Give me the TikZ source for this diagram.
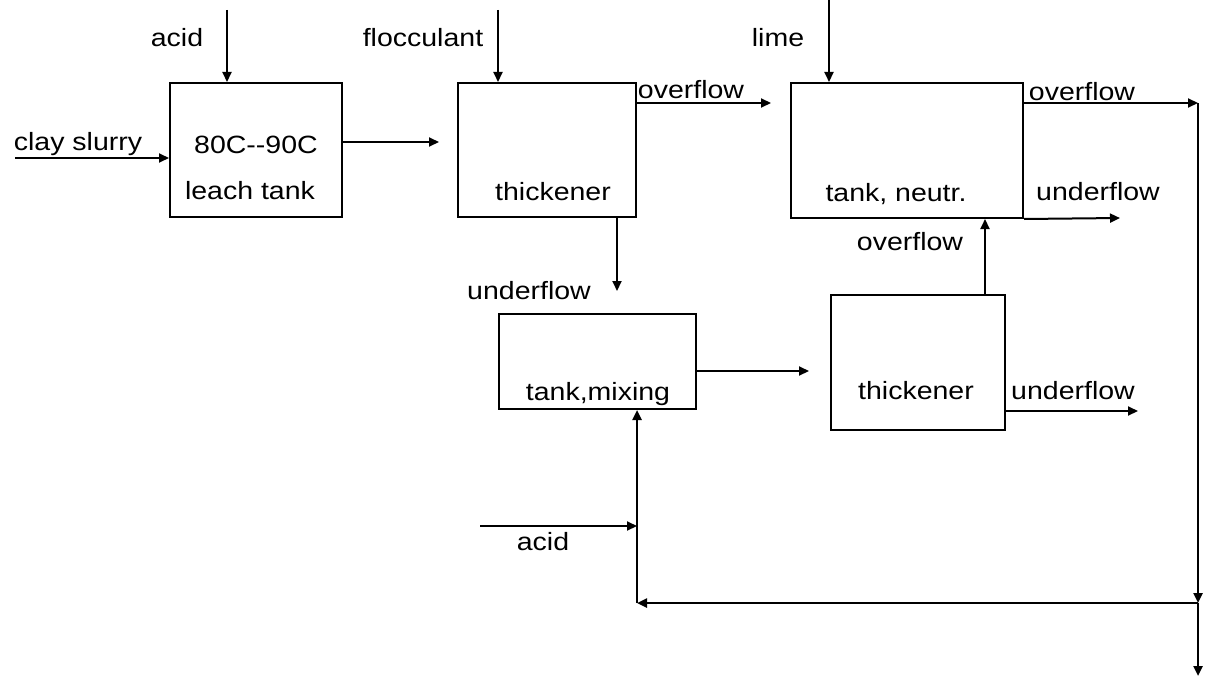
\documentclass[tikz,border=0pt]{standalone}
\usepackage{fontspec}
\setmainfont{Liberation Sans}[FakeStretch=1.14]
\usepackage{tikz}
\usetikzlibrary{arrows.meta,positioning,calc}

\begin{document}
\begin{tikzpicture}[x=1pt,y=-1pt,
    vessel/.style={draw,line width=2pt,inner sep=0pt},
    lbl/.style={font=\fontsize{25}{30}\selectfont,inner sep=0pt,anchor=base},
    flow/.style={line width=2pt,-{Triangle[length=10pt,width=9pt]}}]
  \useasboundingbox (0,0) rectangle (1207,677);

  % Process units
  \node[vessel,minimum width=172pt,minimum height=134pt] (leach) at (256,150) {};
  \node[vessel,minimum width=178pt,minimum height=134pt] (thickA) at (547,150) {};
  \node[vessel,minimum width=232pt,minimum height=135pt] (neutr) at (907,150.5) {};
  \node[vessel,minimum width=197pt,minimum height=95pt] (mixing) at (597.5,361.5) {};
  \node[vessel,minimum width=174pt,minimum height=135pt] (thickB) at (918,362.5) {};

  % Unit names
  \node[lbl] (leachtemp) at (256,153) {80C-{}-90C};
  \node[lbl] (leachname) at (250,199) {leach tank};
  \node[lbl] (thickAname) at (553,200) {thickener};
  \node[lbl] (neutrname) at (896,201) {tank, neutr.};
  \node[lbl] (mixingname) at (598,400) {tank,mixing};
  \node[lbl] (thickBname) at (916,399) {thickener};

  % Free stream ends
  \coordinate (acidin) at (227,10);
  \coordinate (floccin) at (498,10);
  \coordinate (limein) at (829,0);
  \coordinate (slurryin) at (15,158);
  \coordinate (corner) at (1198,103);
  \coordinate (uflowA) at (1120,218);
  \coordinate (uflowB) at (1138,411);
  \coordinate (junc) at (1198,603);
  \coordinate (drain) at (1198,676);
  \coordinate (ret) at (637,603);
  \coordinate (acidin2) at (480,526);

  % Feeds
  \draw[flow] (acidin) -- (acidin |- leach.north);
  \draw[flow] (slurryin) -- (slurryin -| leach.west);
  \draw[flow] (floccin) -- (floccin |- thickA.north);
  \draw[flow] (limein) -- (limein |- neutr.north);
  \draw[flow] (acidin2) -- (acidin2 -| ret);

  % Main streams
  \draw[flow,shorten >=18pt] ([yshift=8pt]leach.east) -- ([yshift=8pt]leach.east -| thickA.west);
  \draw[flow,shorten >=19pt] ([yshift=47pt]thickA.east) -- ([yshift=47pt]thickA.east -| neutr.west);
  \draw[flow,shorten >=22pt] ([xshift=70pt]thickA.south) -- ([xshift=70pt]thickA.south |- mixing.north);
  \draw[flow,shorten >=21pt] ([yshift=-9.5pt]mixing.east) -- ([yshift=-9.5pt]mixing.east -| thickB.west);
  \draw[flow] ([xshift=67pt]thickB.north) -- ([xshift=67pt]thickB.north |- neutr.south);
  \draw[flow] ([yshift=47.5pt]neutr.east) -- (corner);
  \draw[flow] (neutr.south east) -- (uflowA);
  \draw[flow] ([yshift=-48.5pt]thickB.east) -- (uflowB);

  % Recycle to mixing tank
  \draw[flow,line width=2.4pt] (corner) -- (junc);
  \draw[flow,line width=2.4pt] (junc) -- (drain);
  \draw[flow,line width=2.4pt] (junc) -- (ret);
  \draw[flow,line width=2.4pt] (ret) -- (ret |- mixing.south);

  % Stream labels
  \node[lbl] (acidlbl) at (177,47) {acid};
  \node[lbl] (flocclbl) at (423,47) {flocculant};
  \node[lbl] (limelbl) at (778,47) {lime};
  \node[lbl] (slurrylbl) at (78,150) {clay slurry};
  \node[lbl] (overA) at (691,99) {overflow};
  \node[lbl] (underA) at (529,299) {underflow};
  \node[lbl] (overN) at (1082,100) {overflow};
  \node[lbl] (underN) at (1098,200) {underflow};
  \node[lbl] (overB) at (910,250) {overflow};
  \node[lbl] (underB) at (1073,399) {underflow};
  \node[lbl] (acid2lbl) at (543,550) {acid};
\end{tikzpicture}
\end{document}
